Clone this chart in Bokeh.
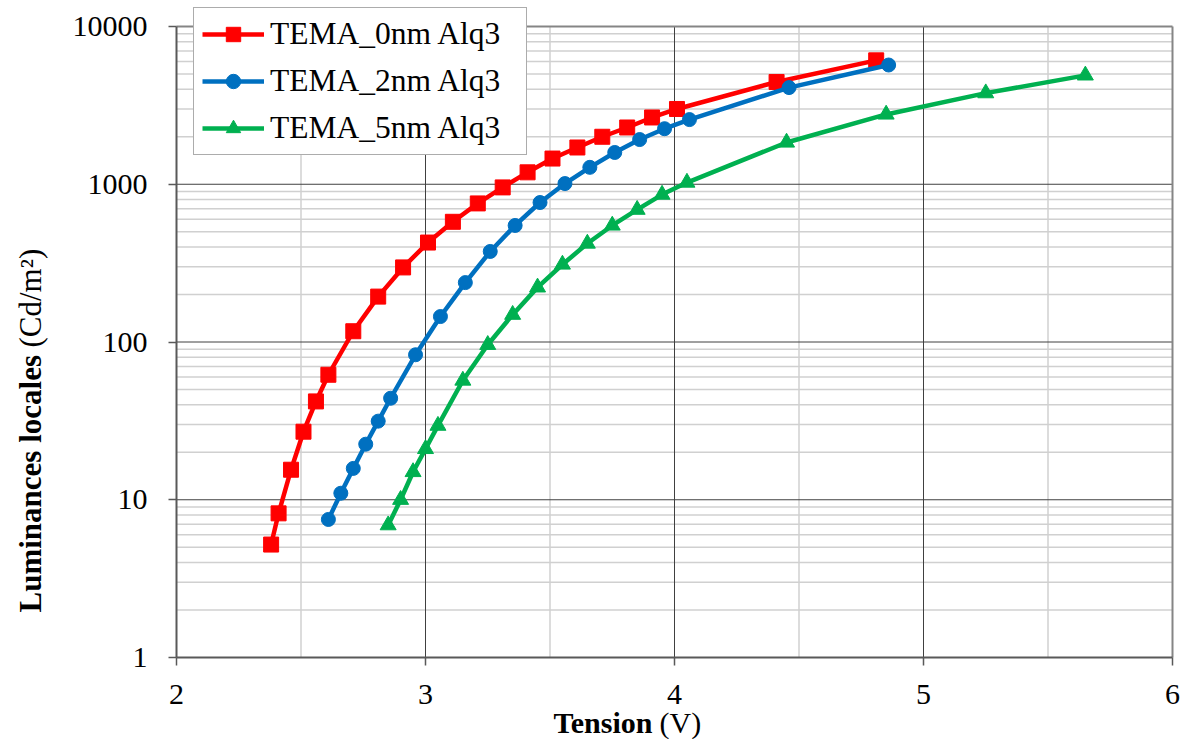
import math
from bokeh.plotting import figure
from bokeh.models import (Range1d, FixedTicker, NumeralTickFormatter, Label, Legend, LegendItem)
from bokeh.embed import file_html
from bokeh.resources import INLINE

# ---- data ----
v_0nm = [2.38, 2.41, 2.46, 2.51, 2.56, 2.61, 2.71, 2.81, 2.91, 3.01, 3.11, 3.21, 3.31, 3.41,
         3.51, 3.61, 3.71, 3.81, 3.91, 4.01, 4.41, 4.81]
l_0nm = [5.2, 8.2, 15.5, 27, 42, 62, 117, 194, 297, 427, 578, 756, 955, 1190,
         1455, 1710, 2000, 2290, 2650, 3000, 4450, 6100]

v_2nm = [2.61, 2.66, 2.71, 2.76, 2.81, 2.86, 2.96, 3.06, 3.16, 3.26, 3.36, 3.46, 3.56, 3.66,
         3.76, 3.86, 3.96, 4.06, 4.46, 4.86]
l_2nm = [7.5, 11, 15.8, 22.5, 31.5, 44, 83, 145, 238, 375, 548, 766, 1010, 1280,
         1590, 1920, 2250, 2570, 4100, 5700]

v_5nm = [2.85, 2.90, 2.95, 3.00, 3.05, 3.15, 3.25, 3.35, 3.45, 3.55, 3.65, 3.75, 3.85, 3.95,
         4.05, 4.45, 4.85, 5.25, 5.65]
l_5nm = [6.9, 10, 15, 21, 29.5, 57, 96, 149, 222, 310, 421, 548, 690, 860,
         1025, 1840, 2770, 3780, 4900]

names = ["TEMA_0nm Alq3", "TEMA_2nm Alq3", "TEMA_5nm Alq3"]
x_ticks = [2, 3, 4, 5, 6]
x_minor = [2.5, 3.5, 4.5, 5.5]
y_ticks = [1, 10, 100, 1000, 10000]
y_minor = [m * 10 ** k for k in range(0, 4) for m in range(2, 10)]

FONT = "Liberation Serif"
W, H = 1181, 739
# plot area: x 2..6 -> px 176..1172 ; y 1..10000 -> px 657..26 (from top)
px_per_v = 996 / 4.0
px_per_dec = 631 / 4.0
x_lo = 2 - 176 / px_per_v
x_hi = 2 + (W - 176) / px_per_v
y_hi = 10 ** (657 / px_per_dec)
y_lo = 10 ** (-(H - 657) / px_per_dec)

p = figure(frame_width=W, frame_height=H, y_axis_type="log", title=None,
           x_range=Range1d(x_lo, x_hi), y_range=Range1d(y_lo, y_hi),
           output_backend="svg", toolbar_location=None,
           min_border_left=0, min_border_right=0, min_border_top=0, min_border_bottom=0,
           background_fill_color="white", border_fill_color="white")
p.outline_line_color = None
p.xgrid.visible = False
p.ygrid.visible = False

p.xaxis.ticker = FixedTicker(ticks=x_ticks, minor_ticks=x_minor)
p.yaxis.ticker = FixedTicker(ticks=y_ticks, minor_ticks=y_minor)
p.yaxis.formatter = NumeralTickFormatter(format="0")
p.yaxis.fixed_location = x_ticks[0]
p.xaxis.fixed_location = y_ticks[0]
p.xaxis.bounds = (x_ticks[0], x_ticks[-1])
p.yaxis.bounds = (y_ticks[0], y_ticks[-1])

for ax in (p.xaxis[0], p.yaxis[0]):
    ax.axis_line_color = "#595959"
    ax.axis_line_width = 2
    ax.major_tick_line_color = "#595959"
    ax.major_tick_line_width = 1.5
    ax.major_tick_out = 8
    ax.major_tick_in = 0
    ax.minor_tick_out = 0
    ax.minor_tick_in = 0
    ax.major_label_text_font = FONT
    ax.major_label_text_font_size = "30px"
    ax.major_label_text_color = "black"
p.xaxis.major_label_standoff = 19
p.yaxis.major_label_standoff = 21

# grid lines (bounded to the plot area)
light, dark, border = "#d0d0d0", "#404040", "#858585"
x0, x1 = x_ticks[0], x_ticks[-1]
y0, y1 = y_ticks[0], y_ticks[-1]
p.segment(x0=[x0] * len(y_minor), y0=y_minor, x1=[x1] * len(y_minor), y1=y_minor,
          line_color=light, line_width=1.5)
p.segment(x0=x_minor, y0=[y0] * len(x_minor), x1=x_minor, y1=[y1] * len(x_minor),
          line_color=light, line_width=1.5)
ymaj = y_ticks[1:-1]
p.segment(x0=[x0] * len(ymaj), y0=ymaj, x1=[x1] * len(ymaj), y1=ymaj,
          line_color=dark, line_width=1)
xmaj = x_ticks[1:-1]
p.segment(x0=xmaj, y0=[y0] * len(xmaj), x1=xmaj, y1=[y1] * len(xmaj),
          line_color=dark, line_width=1)
# top and right border of plot area
p.segment(x0=[x0, x1], y0=[y1, y0], x1=[x1, x1], y1=[y1, y1], line_color=border, line_width=2)

red, blue, green = "#ff0000", "#0070c0", "#00b050"
lw = 4.5
l0 = p.line(v_0nm, l_0nm, line_color=red, line_width=lw)
s0 = p.scatter(v_0nm, l_0nm, marker="square", size=15, fill_color=red, line_color=red)
l1 = p.line(v_2nm, l_2nm, line_color=blue, line_width=lw)
s1 = p.scatter(v_2nm, l_2nm, marker="circle", size=14, fill_color=blue, line_color=blue)
l2 = p.line(v_5nm, l_5nm, line_color=green, line_width=lw)
s2 = p.scatter(v_5nm, l_5nm, marker="triangle", size=16, fill_color=green, line_color=green)

legend = Legend(items=[LegendItem(label=names[0], renderers=[l0, s0]),
                       LegendItem(label=names[1], renderers=[l1, s1]),
                       LegendItem(label=names[2], renderers=[l2, s2])],
                location=(193, H - 155))
legend.label_text_font = FONT
legend.label_text_font_size = "31.5px"
legend.label_text_color = "black"
legend.glyph_width = 62
legend.glyph_height = 36
legend.label_height = 36
legend.label_width = 248
legend.label_standoff = 6
legend.spacing = 11
legend.padding = 8
legend.margin = 0
legend.border_line_color = "#595959"
legend.border_line_width = 1.5
legend.background_fill_color = "white"
legend.background_fill_alpha = 1
p.add_layout(legend, "center")

# axis titles (bold part + regular part)
common = dict(x_units="screen", y_units="screen", text_font=FONT,
              text_color="black", text_baseline="middle")
p.add_layout(Label(x=553, y=H - 722, text="Tension", text_font_style="bold",
                   text_font_size="30px", **common))
p.add_layout(Label(x=659, y=H - 722, text="(V)", text_font_size="30px", **common))
p.add_layout(Label(x=30, y=H - 612, text="Luminances locales", angle=math.pi / 2,
                   text_font_style="bold", text_font_size="31px", **common))
p.add_layout(Label(x=30, y=H - 347, text="(Cd/m²)", angle=math.pi / 2,
                   text_font_size="31px", **common))

open("out.html", "w").write(file_html(p, INLINE))
